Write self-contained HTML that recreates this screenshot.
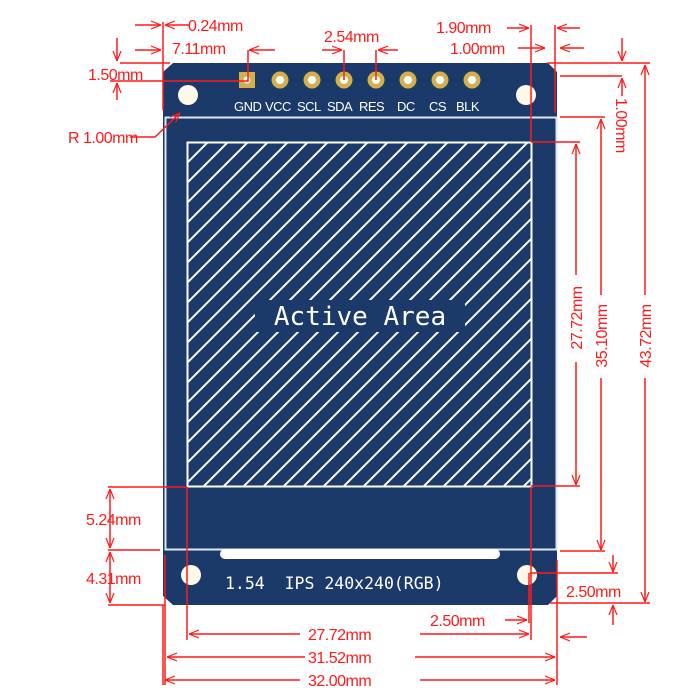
<!DOCTYPE html>
<html><head><meta charset="utf-8"><style>
html,body{margin:0;padding:0;background:#fff;width:700px;height:700px;overflow:hidden}
svg{display:block}
.t{font-family:"Liberation Sans",sans-serif;font-size:16px;fill:#ff1a1a;letter-spacing:-0.5px}
.p{font-family:"Liberation Sans",sans-serif;font-size:13px;fill:#fff;letter-spacing:-0.5px}
</style></head><body>
<svg width="700" height="700" viewBox="0 0 700 700" xmlns="http://www.w3.org/2000/svg">
<defs>
<clipPath id="aa"><rect x="188" y="143" width="343" height="343"/></clipPath>
<marker id="a" viewBox="0 0 10 10" refX="10" refY="5" markerWidth="10" markerHeight="10" orient="auto-start-reverse" markerUnits="userSpaceOnUse"><path d="M0,1 L10,5 L0,9" fill="none" stroke="#ff1a1a" stroke-width="1.2"/></marker>
</defs>
<path d="M173,63 L548,63 L557,72 L557,596 L548,605 L173,605 L163,596 L163,72 Z" fill="#1b3a6a"/>
<rect x="165.5" y="117.5" width="391" height="432" fill="none" stroke="#dfe8f2" stroke-width="2"/>
<rect x="220" y="549" width="280" height="10" rx="5" fill="#fff"/>
<rect x="187.5" y="142.5" width="344" height="344" fill="#1b3a6a" stroke="#fff" stroke-width="2"/>
<g clip-path="url(#aa)" stroke="#fff" stroke-width="2">
<path d="M170,500 L540,130 M190,500 L560,130 M150,500 L520,130 M130,500 L500,130 M110,500 L480,130 M90,500 L460,130 M70,500 L440,130 M50,500 L420,130 M30,500 L400,130 M10,500 L380,130 M-10,500 L360,130 M-30,500 L340,130 M-50,500 L320,130 M-70,500 L300,130 M-90,500 L280,130 M-110,500 L260,130 M-130,500 L240,130 M-150,500 L220,130 M-170,500 L200,130 M210,500 L580,130 M230,500 L600,130 M250,500 L620,130 M270,500 L640,130 M290,500 L660,130 M310,500 L680,130 M330,500 L700,130 M350,500 L720,130 M370,500 L740,130 M390,500 L760,130 M410,500 L780,130 M430,500 L800,130 M450,500 L820,130 M470,500 L840,130 M490,500 L860,130 M510,500 L880,130 M530,500 L900,130"/>
</g>
<rect x="255" y="300" width="210" height="32" fill="#1b3a6a"/>
<text x="360" y="325" text-anchor="middle" font-family="DejaVu Sans Mono,monospace" font-size="26" fill="#fff">Active Area</text>
<text x="225" y="589" font-family="DejaVu Sans Mono,monospace" font-size="16.5" fill="#fff" xml:space="preserve">1.54  IPS 240x240(RGB)</text>
<circle cx="188" cy="95" r="10" fill="#fdf8e8"/><circle cx="526" cy="95" r="10" fill="#fdf8e8"/>
<circle cx="191" cy="575" r="10" fill="#fdf8e8"/><circle cx="527" cy="575" r="10" fill="#fdf8e8"/>
<rect x="239" y="72" width="16" height="16" fill="#d4b04a"/><circle cx="247" cy="80" r="3.5" fill="#fff"/>
<g fill="#d4b04a"><circle cx="280" cy="80" r="8.5"/><circle cx="312" cy="80" r="8.5"/><circle cx="344" cy="80" r="8.5"/><circle cx="376" cy="80" r="8.5"/><circle cx="408" cy="80" r="8.5"/><circle cx="440" cy="80" r="8.5"/><circle cx="472" cy="80" r="8.5"/></g>
<g fill="#fff"><circle cx="280" cy="80" r="4"/><circle cx="312" cy="80" r="4"/><circle cx="344" cy="80" r="4"/><circle cx="376" cy="80" r="4"/><circle cx="408" cy="80" r="4"/><circle cx="440" cy="80" r="4"/><circle cx="472" cy="80" r="4"/></g>
<text class="p" x="234" y="111">GND</text><text class="p" x="265" y="111">VCC</text><text class="p" x="297" y="111">SCL</text><text class="p" x="327" y="111">SDA</text><text class="p" x="359" y="111">RES</text><text class="p" x="397" y="111">DC</text><text class="p" x="429" y="111">CS</text><text class="p" x="456" y="111">BLK</text>
<g stroke="#ff1a1a" stroke-width="1.5" fill="none">
<line x1="163" y1="22" x2="163" y2="110"/>
<line x1="135" y1="25" x2="161" y2="25" marker-end="url(#a)"/>
<line x1="190" y1="25" x2="165" y2="25" marker-end="url(#a)"/>
<line x1="135" y1="50" x2="161" y2="50" marker-end="url(#a)"/>
<line x1="275" y1="50" x2="249" y2="50" marker-end="url(#a)"/>
<line x1="248" y1="50" x2="248" y2="82"/>
<line x1="110" y1="81" x2="248" y2="81"/>
<line x1="120" y1="63" x2="170" y2="63"/>
<line x1="117" y1="38" x2="117" y2="61" marker-end="url(#a)"/>
<line x1="117" y1="100" x2="117" y2="83" marker-end="url(#a)"/>
<polyline points="130,137 155,137 180,113" marker-end="url(#a)"/>
<line x1="344" y1="50" x2="344" y2="80"/>
<line x1="322" y1="50" x2="342" y2="50" marker-end="url(#a)"/>
<line x1="376" y1="50" x2="376" y2="80"/>
<line x1="398" y1="50" x2="378" y2="50" marker-end="url(#a)"/>
<line x1="531" y1="25" x2="531" y2="142"/>
<line x1="531" y1="142" x2="580" y2="142"/>
<line x1="555" y1="25" x2="555" y2="113"/>
<line x1="507" y1="28" x2="529" y2="28" marker-end="url(#a)"/>
<line x1="580" y1="28" x2="557" y2="28" marker-end="url(#a)"/>
<line x1="518" y1="48" x2="545" y2="48" marker-end="url(#a)"/>
<line x1="584" y1="48" x2="560" y2="48" marker-end="url(#a)"/>
<line x1="547" y1="63" x2="650" y2="63"/>
<line x1="560" y1="76" x2="622" y2="76"/>
<line x1="622" y1="38" x2="622" y2="61" marker-end="url(#a)"/>
<line x1="622" y1="96" x2="622" y2="78" marker-end="url(#a)"/>
<line x1="560" y1="117" x2="605" y2="117"/>
<line x1="576" y1="275" x2="576" y2="144" marker-end="url(#a)"/>
<line x1="576" y1="362" x2="576" y2="485" marker-end="url(#a)"/>
<line x1="531" y1="486" x2="580" y2="486"/>
<line x1="601" y1="295" x2="601" y2="119" marker-end="url(#a)"/>
<line x1="601" y1="378" x2="601" y2="550" marker-end="url(#a)"/>
<line x1="560" y1="551" x2="605" y2="551"/>
<line x1="645" y1="295" x2="645" y2="65" marker-end="url(#a)"/>
<line x1="645" y1="378" x2="645" y2="602" marker-end="url(#a)"/>
<line x1="550" y1="603" x2="650" y2="603"/>
<line x1="613" y1="555" x2="613" y2="572" marker-end="url(#a)"/>
<line x1="530" y1="573" x2="618" y2="573"/>
<line x1="613" y1="625" x2="613" y2="605" marker-end="url(#a)"/>
<line x1="529" y1="573" x2="529" y2="623"/>
<line x1="505" y1="620" x2="527" y2="620" marker-end="url(#a)"/>
<line x1="587" y1="637" x2="560" y2="637" marker-end="url(#a)"/>
<line x1="187" y1="487" x2="187" y2="640"/>
<line x1="531" y1="487" x2="531" y2="640"/>
<line x1="300" y1="634" x2="189" y2="634" marker-end="url(#a)"/>
<line x1="420" y1="634" x2="529" y2="634" marker-end="url(#a)"/>
<line x1="165" y1="555" x2="165" y2="685"/>
<line x1="557" y1="560" x2="557" y2="685"/>
<line x1="163" y1="605" x2="163" y2="685"/>
<line x1="305" y1="657" x2="167" y2="657" marker-end="url(#a)"/>
<line x1="415" y1="657" x2="555" y2="657" marker-end="url(#a)"/>
<line x1="300" y1="680" x2="165" y2="680" marker-end="url(#a)"/>
<line x1="420" y1="680" x2="555" y2="680" marker-end="url(#a)"/>
<line x1="108" y1="487" x2="187" y2="487"/>
<line x1="108" y1="550" x2="160" y2="550"/>
<line x1="108" y1="605" x2="165" y2="605"/>
<line x1="110" y1="510" x2="110" y2="489" marker-end="url(#a)"/>
<line x1="110" y1="510" x2="110" y2="548" marker-end="url(#a)"/>
<line x1="110" y1="575" x2="110" y2="552" marker-end="url(#a)"/>
<line x1="110" y1="575" x2="110" y2="603" marker-end="url(#a)"/>
</g>
<text class="t" x="188" y="31">0.24mm</text>
<text class="t" x="172" y="54">7.11mm</text>
<text class="t" x="88" y="80">1.50mm</text>
<text class="t" x="68" y="143">R 1.00mm</text>
<text class="t" x="324" y="42">2.54mm</text>
<text class="t" x="436" y="33">1.90mm</text>
<text class="t" x="450" y="54">1.00mm</text>
<text class="t" transform="translate(616,98) rotate(90)">1.00mm</text>
<text class="t" text-anchor="middle" transform="translate(582,318) rotate(-90)">27.72mm</text>
<text class="t" text-anchor="middle" transform="translate(607,336) rotate(-90)">35.10mm</text>
<text class="t" text-anchor="middle" transform="translate(651,336) rotate(-90)">43.72mm</text>
<text class="t" x="566" y="597">2.50mm</text>
<text class="t" x="430" y="626">2.50mm</text>
<text class="t" x="308" y="640">27.72mm</text>
<text class="t" x="308" y="663">31.52mm</text>
<text class="t" x="308" y="686">32.00mm</text>
<text class="t" x="86" y="525">5.24mm</text>
<text class="t" x="86" y="584">4.31mm</text>
</svg>
</body></html>
